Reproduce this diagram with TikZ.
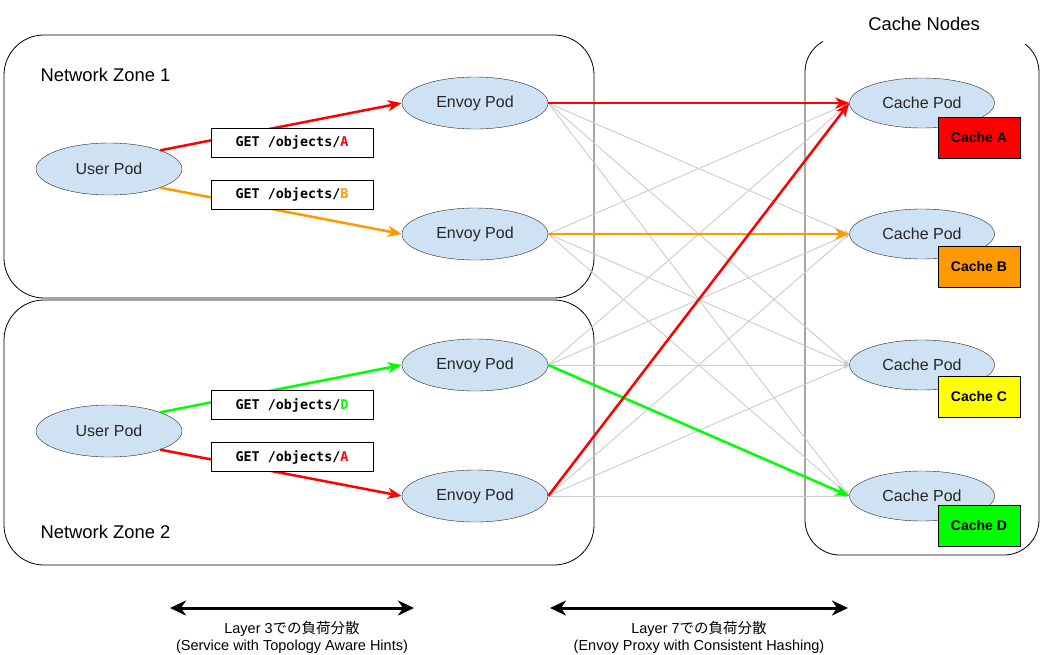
\documentclass[tikz,border=0pt]{standalone}
\usepackage{fontspec}
\setmainfont{Liberation Sans}
\newfontfamily\monof{DejaVu Sans Mono}
\newfontfamily\jpf{Noto Sans CJK JP}
\usetikzlibrary{shapes.geometric,arrows.meta}
\definecolor{podfill}{HTML}{CFE2F3}
\definecolor{cred}{HTML}{FF0000}
\definecolor{corange}{HTML}{FF9900}
\definecolor{cyellow}{HTML}{FFFF00}
\definecolor{cgreen}{HTML}{00FF00}
\definecolor{lgray}{HTML}{CCCCCC}
\begin{document}
\begin{tikzpicture}[x=1pt,y=-1pt,
  pod/.style={ellipse,draw=black!85,fill=podfill,minimum width=146pt,minimum height=52pt,inner sep=0pt,font=\fontsize{16}{19}\selectfont,text=black!85},
  cpod/.style={pod,minimum width=145pt,minimum height=50pt},
  getbox/.style={draw=black,fill=white,minimum width=162pt,minimum height=29pt,inner sep=0pt,font=\monof\bfseries\fontsize{13.4}{16}\selectfont},
  cachelbl/.style={draw=black,minimum width=82pt,minimum height=41pt,inner sep=0pt,font=\bfseries\fontsize{14}{17}\selectfont},
  zone/.style={draw=black,rounded corners=40pt,line width=0.8pt},
  flow/.style={line width=2.5pt,-{Stealth[length=14pt,width=11pt,inset=4pt]}},
  mesh/.style={draw=lgray,line width=0.9pt,-{Stealth[length=6pt,width=5pt,inset=2pt]}},
  span/.style={line width=3pt,{Stealth[length=16pt,width=15pt,inset=5pt]}-{Stealth[length=16pt,width=15pt,inset=5pt]}},
  title/.style={font=\fontsize{18.4}{21}\selectfont,anchor=west},
  note/.style={font=\fontsize{14.5}{17}\selectfont,align=center}]
\useasboundingbox (0,0) rectangle (1045,654);
% zones
\draw[zone] (4,35) rectangle (594,298);
\draw[zone] (4,300) rectangle (594,565);
\begin{scope}
\clip (0,0) rectangle (823,654) (1025,0) rectangle (1045,654) (0,50) rectangle (1045,654);
\draw[draw=black,rounded corners=35pt,line width=0.8pt] (805,37) rectangle (1039,555);
\end{scope}
\node[title] (z1) at (37,75) {Network Zone 1};
\node[title] (z2) at (37,532) {Network Zone 2};
\node[font=\fontsize{18.4}{21}\selectfont] (cn) at (924,24) {Cache Nodes};
% pods
\node[pod] (u1) at (109,169) {User Pod};
\node[pod] (u2) at (109,431) {User Pod};
\node[pod] (e1) at (475,103) {Envoy Pod};
\node[pod] (e2) at (475,234) {Envoy Pod};
\node[pod] (e3) at (475,365) {Envoy Pod};
\node[pod] (e4) at (475,496) {Envoy Pod};
\node[cpod] (c1) at (922,103) {Cache Pod};
\node[cpod] (c2) at (922,234) {Cache Pod};
\node[cpod] (c3) at (922,365) {Cache Pod};
\node[cpod] (c4) at (922,496) {Cache Pod};
% mesh
\foreach \e in {e1,e2,e3,e4}{
  \foreach \c in {c1,c2,c3,c4}{
    \draw[mesh] (\e.east) -- (\c.west);
  }
}
% left flows
\draw[flow,cred] (u1.20) -- (e1.west);
\draw[flow,corange] (u1.-20) -- (e2.west);
\draw[flow,cgreen] (u2.20) -- (e3.west);
\draw[flow,cred] (u2.-20) -- (e4.west);
% right flows
\draw[flow,cred] (e1.east) -- (c1.west);
\draw[flow,corange] (e2.east) -- (c2.west);
\draw[flow,cgreen] (e3.east) -- (c4.west);
\draw[flow,cred] (e4.east) -- (c1.west);
% request labels
\node[getbox] (g1) at (292,142.5) {GET /objects/\textcolor{cred}{A}};
\node[getbox] (g2) at (292,194.5) {GET /objects/\textcolor{corange}{B}};
\node[getbox] (g3) at (292,405) {GET /objects/\textcolor{cgreen}{D}};
\node[getbox] (g4) at (292,457) {GET /objects/\textcolor{cred}{A}};
% cache labels
\node[cachelbl,fill=cred] (ca) at (979,137.5) {Cache A};
\node[cachelbl,fill=corange] (cb) at (979,266.5) {Cache B};
\node[cachelbl,fill=cyellow] (cc) at (979,396.5) {Cache C};
\node[cachelbl,fill=cgreen] (cd) at (979,525.5) {Cache D};
% bottom spans
\coordinate (l3a) at (170,608);
\coordinate (l3b) at (414,608);
\coordinate (l7a) at (550,608);
\coordinate (l7b) at (848,608);
\draw[span] (l3a) -- (l3b);
\draw[span] (l7a) -- (l7b);
\node[note] (n3) at (292,637) {Layer 3{\jpf での負荷分散}\\(Service with Topology Aware Hints)};
\node[note] (n7) at (699,637) {Layer 7{\jpf での負荷分散}\\(Envoy Proxy with Consistent Hashing)};
\end{tikzpicture}
\end{document}
